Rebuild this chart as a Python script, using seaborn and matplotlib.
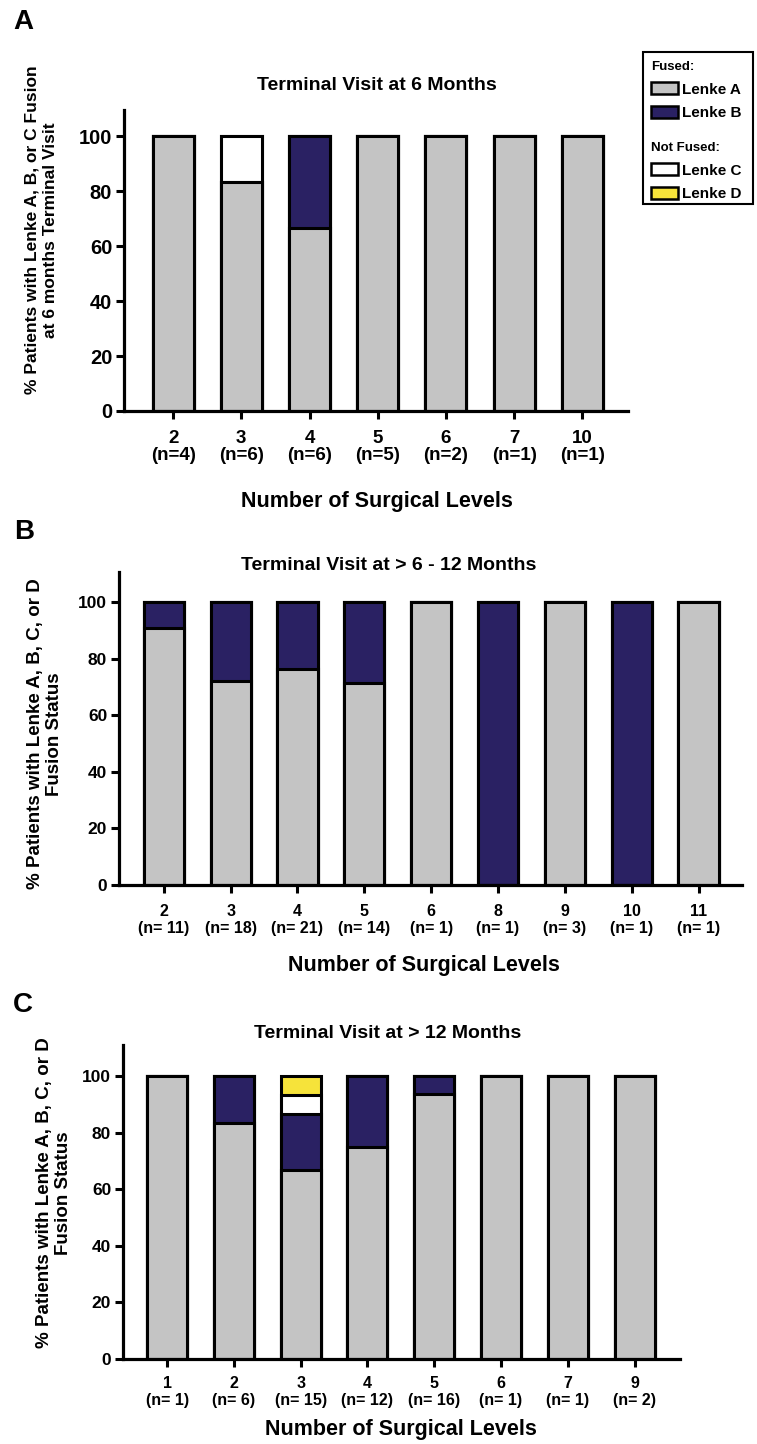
import numpy as np
import pandas as pd
import matplotlib
matplotlib.use("Agg")
import matplotlib.pyplot as plt
import seaborn as sns
from matplotlib.patches import Patch, Rectangle

# ---------------- data ----------------
# Panel A: Terminal visit at 6 months
a_levels = ["2", "3", "4", "5", "6", "7", "10"]
a_n = [4, 6, 6, 5, 2, 1, 1]
a_lenke_a = [100, 83.3, 66.7, 100, 100, 100, 100]
a_lenke_b = [0, 0, 33.3, 0, 0, 0, 0]
a_lenke_c = [0, 16.7, 0, 0, 0, 0, 0]
a_lenke_d = [0, 0, 0, 0, 0, 0, 0]

# Panel B: Terminal visit at > 6 - 12 months
b_levels = ["2", "3", "4", "5", "6", "8", "9", "10", "11"]
b_n = [11, 18, 21, 14, 1, 1, 3, 1, 1]
b_lenke_a = [90.9, 72.2, 76.2, 71.4, 100, 0, 100, 0, 100]
b_lenke_b = [9.1, 27.8, 23.8, 28.6, 0, 100, 0, 100, 0]
b_lenke_c = [0, 0, 0, 0, 0, 0, 0, 0, 0]
b_lenke_d = [0, 0, 0, 0, 0, 0, 0, 0, 0]

# Panel C: Terminal visit at > 12 months
c_levels = ["1", "2", "3", "4", "5", "6", "7", "9"]
c_n = [1, 6, 15, 12, 16, 1, 1, 2]
c_lenke_a = [100, 83.3, 66.7, 75, 93.75, 100, 100, 100]
c_lenke_b = [0, 16.7, 20, 25, 6.25, 0, 0, 0]
c_lenke_c = [0, 0, 6.7, 0, 0, 0, 0, 0]
c_lenke_d = [0, 0, 6.6, 0, 0, 0, 0, 0]

y_ticks = [0, 20, 40, 60, 80, 100]

# ---------------- style ----------------
GREY = "#C4C4C4"
NAVY = "#2A2163"
WHITE = "#FFFFFF"
YELLOW = "#F6E33A"

sns.set_style("ticks")
plt.rcParams["font.family"] = ["Liberation Sans", "DejaVu Sans"]
plt.rcParams["font.weight"] = "bold"
plt.rcParams["axes.labelweight"] = "bold"
plt.rcParams["text.color"] = "black"
plt.rcParams["axes.labelcolor"] = "black"
plt.rcParams["xtick.color"] = "black"
plt.rcParams["ytick.color"] = "black"
plt.rcParams["xtick.labelcolor"] = "black"
plt.rcParams["ytick.labelcolor"] = "black"

W, H = 757, 1444
fig = plt.figure(figsize=(W / 100, H / 100), dpi=100)


def fx(x):
    return x / W


def fy(y):
    return 1 - y / H


def axes_px(left, right, top, bottom):
    return fig.add_axes([fx(left), fy(bottom), (right - left) / W, (bottom - top) / H])


def draw_panel(ax, levels, ns, la, lb, lc, ld, nfmt, xlim, ylim, xfs, yfs, xpad, lsp):
    labels = [f"{l}\n{nfmt.format(n)}" for l, n in zip(levels, ns)]
    df = pd.DataFrame({"label": labels, "A": la, "B": lb, "C": lc, "D": ld})
    df["cA"] = df["A"]
    df["cB"] = df["cA"] + df["B"]
    df["cC"] = df["cB"] + df["C"]
    df["cD"] = df["cC"] + df["D"]
    for col, color in [("cD", YELLOW), ("cC", WHITE), ("cB", NAVY), ("cA", GREY)]:
        sns.barplot(data=df, x="label", y=col, order=labels, color=color,
                    saturation=1, width=0.6, edgecolor="black", linewidth=2.2,
                    errorbar=None, ax=ax)
    ax.set_xlim(*xlim)
    ax.set_ylim(*ylim)
    ax.set_yticks(y_ticks)
    ax.set_xlabel("")
    ax.set_ylabel("")
    sns.despine(ax=ax)
    for s in ["left", "bottom"]:
        ax.spines[s].set_linewidth(2.3)
        ax.spines[s].set_color("black")
    ax.tick_params(axis="both", direction="out", length=5.5, width=2.2, color="black",
                   labelcolor="black")
    ax.tick_params(axis="x", labelsize=xfs, pad=xpad)
    ax.tick_params(axis="y", labelsize=yfs, pad=3)
    for t in ax.get_xticklabels():
        t.set_linespacing(lsp)
        t.set_fontweight("bold")
    for t in ax.get_yticklabels():
        t.set_fontweight("bold")


# ---------------- panel A ----------------
axA = axes_px(124, 628, 110, 411)
draw_panel(axA, a_levels, a_n, a_lenke_a, a_lenke_b, a_lenke_c, a_lenke_d,
           "(n={})", (-0.72, 6.67), (0, 109.5), 13.5, 14.5, 8.5, 1.0)
fig.text(fx(377), fy(85), "Terminal Visit at 6 Months", ha="center", va="center", fontsize=14)
fig.text(fx(377), fy(502), "Number of Surgical Levels", ha="center", va="center", fontsize=15.5)
fig.text(fx(41), fy(230), "% Patients with Lenke A, B, or C Fusion\nat 6 months Terminal Visit",
         rotation=90, ha="center", va="center", fontsize=12.5, multialignment="center",
         linespacing=1.3)
fig.text(fx(13), fy(22), "A", ha="left", va="center", fontsize=20)

# ---------------- panel B ----------------
axB = axes_px(119, 742, 572, 885)
draw_panel(axB, b_levels, b_n, b_lenke_a, b_lenke_b, b_lenke_c, b_lenke_d,
           "(n= {})", (-0.67, 8.65), (0, 110.6), 11.5, 12.5, 8.5, 1.1)
fig.text(fx(389), fy(566), "Terminal Visit at > 6 - 12 Months", ha="center", va="center", fontsize=14)
fig.text(fx(424), fy(965), "Number of Surgical Levels", ha="center", va="center", fontsize=15.5)
fig.text(fx(45), fy(734), "% Patients with Lenke A, B, C, or D\nFusion Status",
         rotation=90, ha="center", va="center", fontsize=13.5, multialignment="center",
         linespacing=1.2)
fig.text(fx(14), fy(532), "B", ha="left", va="center", fontsize=20)

# ---------------- panel C ----------------
axC = axes_px(123, 680, 1045, 1359)
draw_panel(axC, c_levels, c_n, c_lenke_a, c_lenke_b, c_lenke_c, c_lenke_d,
           "(n= {})", (-0.66, 7.68), (0, 111), 11.5, 12.5, 7, 1.1)
fig.text(fx(388), fy(1033), "Terminal Visit at > 12 Months", ha="center", va="center", fontsize=14)
fig.text(fx(401), fy(1429), "Number of Surgical Levels", ha="center", va="center", fontsize=15.5)
fig.text(fx(54), fy(1193), "% Patients with Lenke A, B, C, or D\nFusion Status",
         rotation=90, ha="center", va="center", fontsize=13.5, multialignment="center",
         linespacing=1.2)
fig.text(fx(13), fy(1005), "C", ha="left", va="center", fontsize=20)

# ---------------- legend ----------------
fused_handles = [Patch(facecolor=GREY, edgecolor="black", linewidth=1.8, label="Lenke A"),
                 Patch(facecolor=NAVY, edgecolor="black", linewidth=1.8, label="Lenke B")]
notfused_handles = [Patch(facecolor=WHITE, edgecolor="black", linewidth=1.8, label="Lenke C"),
                    Patch(facecolor=YELLOW, edgecolor="black", linewidth=1.8, label="Lenke D")]
common = dict(frameon=False, fontsize=11, title_fontsize=9.5, alignment="left",
              handlelength=1.75, handleheight=0.85, handletextpad=0.3,
              labelspacing=0.6, borderpad=0, borderaxespad=0)
leg1 = fig.legend(handles=fused_handles, title="Fused:", loc="upper left",
                  bbox_to_anchor=(fx(651), fy(61)), **common)
leg2 = fig.legend(handles=notfused_handles, title="Not Fused:", loc="upper left",
                  bbox_to_anchor=(fx(651), fy(142)), **common)
for lg in (leg1, leg2):
    lg.get_title().set_fontweight("bold")
    lg.get_title().set_color("black")
    for t in lg.get_texts():
        t.set_color("black")
fig.add_artist(Rectangle((fx(643), fy(204)), (753 - 643) / W, (204 - 52) / H,
                         transform=fig.transFigure, fill=False, edgecolor="black", linewidth=1.5))

fig.savefig("out.png", dpi=100)
